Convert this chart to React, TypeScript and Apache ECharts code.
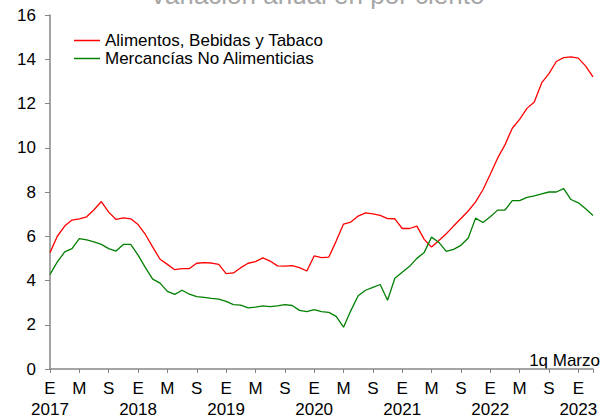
import React, { useEffect, useRef } from "react";
import * as echarts from "echarts";

const FONT = "'Liberation Sans', Arial, sans-serif";

const startYear = 2017;
const monthLetters = ["E", "F", "M", "A", "M", "J", "J", "A", "S", "O", "N", "D"];
const pointCount = 75; // Jan 2017 .. Mar 2023 (1q Marzo)

const categories: string[] = [];
for (let i = 0; i < pointCount; i++) {
  const y = startYear + Math.floor(i / 12);
  const m = i % 12;
  categories.push(`${y}-${String(m + 1).padStart(2, "0")}`);
}

const seriesNames = ["Alimentos, Bebidas y Tabaco", "Mercancías No Alimenticias"];

const alimentos = [
  5.26, 6.0, 6.46, 6.73, 6.79, 6.88, 7.2, 7.57, 7.09, 6.76, 6.83, 6.79,
  6.53, 6.08, 5.51, 4.96, 4.73, 4.49, 4.54, 4.54, 4.78, 4.81, 4.79, 4.73,
  4.31, 4.34, 4.58, 4.78, 4.85, 5.02, 4.88, 4.66, 4.65, 4.67, 4.58, 4.43,
  5.11, 5.03, 5.06, 5.78, 6.55, 6.64, 6.91, 7.06, 7.01, 6.94, 6.8, 6.79,
  6.35, 6.35, 6.46, 5.86, 5.51, 5.81, 6.11, 6.46, 6.8, 7.14, 7.55, 8.1,
  8.8, 9.53, 10.13, 10.88, 11.28, 11.78, 12.07, 12.93, 13.35, 13.9, 14.07, 14.11,
  14.05, 13.69, 13.2,
];

const mercancias = [
  4.28, 4.84, 5.29, 5.44, 5.89, 5.84, 5.75, 5.63, 5.44, 5.33, 5.63, 5.63,
  5.15, 4.58, 4.06, 3.88, 3.51, 3.37, 3.56, 3.38, 3.27, 3.24, 3.19, 3.16,
  3.06, 2.91, 2.89, 2.76, 2.8, 2.85, 2.82, 2.85, 2.91, 2.87, 2.65, 2.59,
  2.68, 2.59, 2.56, 2.38, 1.89, 2.64, 3.31, 3.56, 3.69, 3.82, 3.11, 4.1,
  4.37, 4.64, 5.0, 5.27, 5.96, 5.72, 5.32, 5.41, 5.59, 5.92, 6.82, 6.62,
  6.88, 7.18, 7.18, 7.61, 7.61, 7.76, 7.82, 7.91, 8.0, 8.0, 8.15, 7.66,
  7.51, 7.24, 6.94,
];

const titleText = "Variación anual en por ciento";
const noteText = "1q Marzo";

export default function App() {
  const ref = useRef<HTMLDivElement>(null);

  useEffect(() => {
    if (!ref.current) return;
    const chart = echarts.init(ref.current, undefined, { renderer: "svg" });
    const axisColor = "#868686";
    chart.setOption({
      animation: false,
      backgroundColor: "#ffffff",
      textStyle: { fontFamily: FONT },
      grid: { left: 50, right: 8, top: 15, bottom: 47, containLabel: false },
      legend: {
        orient: "vertical",
        left: 69,
        top: 27,
        icon: "rect",
        itemWidth: 26,
        itemHeight: 1.5,
        itemGap: 1,
        data: seriesNames,
        textStyle: { fontSize: 17, color: "#000", fontFamily: FONT },
      },
      xAxis: {
        type: "category",
        boundaryGap: false,
        data: categories,
        axisLine: { lineStyle: { color: axisColor, width: 1.5 } },
        axisTick: {
          show: true,
          interval: 3,
          length: 4,
          lineStyle: { color: axisColor, width: 1 },
        },
        axisLabel: {
          interval: 0,
          showMinLabel: true,
          showMaxLabel: false,
          margin: 9,
          fontSize: 17,
          lineHeight: 21,
          color: "#000",
          fontFamily: FONT,
          formatter: (value: string, index: number) => {
            if (index % 4 !== 0) return "";
            const [y, m] = value.split("-");
            const mi = parseInt(m, 10) - 1;
            const letter = monthLetters[mi];
            return mi === 0 ? `${letter}\n${y}` : letter;
          },
        },
        splitLine: { show: false },
      },
      yAxis: {
        type: "value",
        min: 0,
        max: 16,
        interval: 2,
        axisLine: { show: true, lineStyle: { color: axisColor, width: 1.5 } },
        axisTick: { show: true, length: 5, lineStyle: { color: axisColor, width: 1 } },
        axisLabel: { fontSize: 17, color: "#000", margin: 14, fontFamily: FONT },
        splitLine: { show: false },
      },
      graphic: [
        {
          type: "text",
          x: 317,
          y: -5,
          style: {
            text: titleText,
            align: "center",
            verticalAlign: "middle",
            fontSize: 26,
            fontFamily: FONT,
            fill: "#a6a6a6",
          },
        },
        {
          type: "text",
          x: 600,
          y: 360,
          style: {
            text: noteText,
            align: "right",
            verticalAlign: "middle",
            fontSize: 17,
            fontFamily: FONT,
            fill: "#000",
          },
        },
      ],
      series: [
        {
          name: seriesNames[0],
          type: "line",
          data: alimentos,
          symbol: "none",
          showSymbol: false,
          lineStyle: { color: "#ff0000", width: 1.3 },
          itemStyle: { color: "#ff0000" },
        },
        {
          name: seriesNames[1],
          type: "line",
          data: mercancias,
          symbol: "none",
          showSymbol: false,
          lineStyle: { color: "#008000", width: 1.3 },
          itemStyle: { color: "#008000" },
        },
      ],
    });
    return () => chart.dispose();
  }, []);

  return (
    <div
      ref={ref}
      style={{ position: "fixed", left: 0, top: 0, width: 601, height: 420, background: "#fff" }}
    />
  );
}
